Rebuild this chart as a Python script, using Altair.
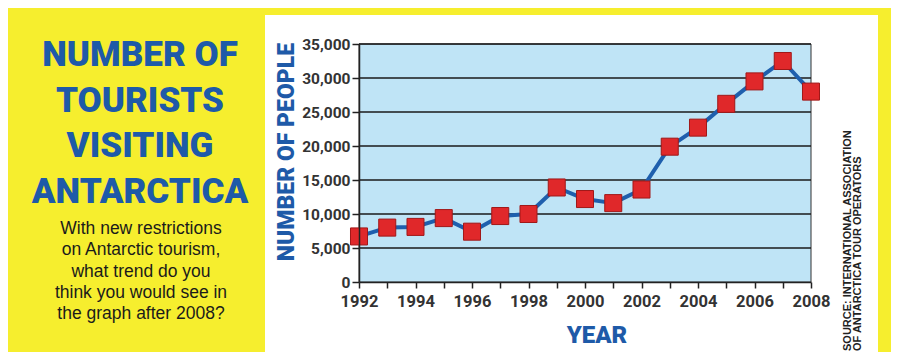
import altair as alt
import pandas as pd

years = list(range(1992, 2009))
tourists = [6700, 8000, 8100, 9400, 7400, 9700, 10000, 13900, 12200, 11600,
            13600, 19900, 22700, 26200, 29500, 32500, 28000]
grid_values = [5000, 10000, 15000, 20000, 25000, 30000, 35000]
y_ticks = [0, 5000, 10000, 15000, 20000, 25000, 30000, 35000]
title_lines = ["NUMBER OF", "TOURISTS", "VISITING", "ANTARCTICA"]
question_lines = ["With new restrictions", "on Antarctic tourism,", "what trend do you",
                  "think you would see in", "the graph after 2008?"]
y_title = "NUMBER OF PEOPLE"
x_title = "YEAR"
source_1 = "SOURCE: INTERNATIONAL ASSOCIATION"
source_2 = "OF ANTARCTICA TOUR OPERATORS"

W, H = 452, 238
NARROW = "Roboto, Liberation Sans, sans-serif"
BLUE = "#1e5aa8"
YELLOW = "#f6ee2e"

df = pd.DataFrame({"year": years, "tourists": tourists})
gdf = pd.DataFrame({"tourists": grid_values})
one = pd.DataFrame({"a": [0]})

xs = alt.Scale(domain=[1992, 2008], nice=False, zero=False)
ys = alt.Scale(domain=[0, 35000], nice=False)

yaxis = alt.Axis(values=y_ticks, title=None, grid=False,
                 labelExpr="format(datum.value, ',')",
                 labelFont=NARROW, labelFontWeight="bold", labelFontSize=15.5,
                 labelColor="#333", tickColor="#222", domainColor="#222",
                 tickSize=7, labelPadding=2, zindex=1, domainWidth=1.5,
                 tickWidth=1.5, labelFlush=False, labelOverlap=False)
xaxis = alt.Axis(values=years, title=None, grid=False,
                 labelExpr="datum.value % 2 == 0 ? format(datum.value, 'd') : ''",
                 labelFont=NARROW, labelFontWeight="bold", labelFontSize=16.5,
                 labelColor="#333", tickColor="#222", domainColor="#222",
                 tickSize=6, labelPadding=5, zindex=1, labelFlush=False,
                 labelOverlap=False, domainWidth=1.5, tickWidth=1.5)

panel = alt.Chart(one).mark_rect(color="white").encode(
    x=alt.value(-94), x2=alt.value(519), y=alt.value(-29), y2=alt.value(330))
plotbg = alt.Chart(one).mark_rect(color="#bfe4f6", stroke="#333", strokeWidth=1).encode(
    x=alt.value(0), x2=alt.value(W), y=alt.value(0), y2=alt.value(H))
grid = alt.Chart(gdf).mark_rule(color="#1a1a1a", strokeWidth=1.5).encode(
    y=alt.Y("tourists:Q", scale=ys, axis=yaxis))

line = alt.Chart(df).mark_line(color="#1f5fad", strokeWidth=4, strokeJoin="round").encode(
    x=alt.X("year:Q", scale=xs, axis=xaxis),
    y=alt.Y("tourists:Q", scale=ys, axis=yaxis))
points = alt.Chart(df).mark_point(shape="square", filled=True, size=290, color="#e0282a",
                                  stroke="#a01818", strokeWidth=1, opacity=1).encode(
    x=alt.X("year:Q", scale=xs, axis=xaxis), y=alt.Y("tourists:Q", scale=ys, axis=yaxis))

title_txt = alt.Chart(one).mark_text(
    text=title_lines, font=NARROW, fontWeight=900, fontSize=35, color=BLUE,
    align="center", baseline="alphabetic", lineHeight=45.5).encode(
    x=alt.value(-219), y=alt.value(22))
question_txt = alt.Chart(one).mark_text(
    text=question_lines, font="Liberation Sans, Arial, sans-serif", fontSize=17.5,
    color="#1b1b1b", align="center", baseline="alphabetic", lineHeight=21.3).encode(
    x=alt.value(-218), y=alt.value(190))
ytitle_txt = alt.Chart(one).mark_text(
    text=y_title, font=NARROW, fontWeight=900, fontSize=23, color=BLUE,
    align="center", baseline="middle", angle=270).encode(
    x=alt.value(-72), y=alt.value(108))
xtitle_txt = alt.Chart(one).mark_text(
    text=x_title, font=NARROW, fontWeight=900, fontSize=24, color=BLUE,
    align="center", baseline="middle").encode(
    x=alt.value(238), y=alt.value(292))
src1 = alt.Chart(one).mark_text(
    text=source_1, font="Liberation Sans, Arial, sans-serif", fontWeight="bold",
    fontSize=11, color="#222", align="left", baseline="middle", angle=270).encode(
    x=alt.value(489), y=alt.value(307))
src2 = alt.Chart(one).mark_text(
    text=source_2, font="Liberation Sans, Arial, sans-serif", fontWeight="bold",
    fontSize=11, color="#222", align="left", baseline="middle", angle=270).encode(
    x=alt.value(499), y=alt.value(307))

chart = alt.layer(panel, plotbg, grid, line, points, title_txt, question_txt,
                  ytitle_txt, xtitle_txt, src1, src2).properties(
    width=W, height=H,
    padding={"left": 351, "top": 36, "right": 80, "bottom": 70},
    autosize=alt.AutoSizeParams(type="none"),
    background=YELLOW,
).configure_view(stroke=None)

chart.save("out.html", embed_options={"renderer": "svg", "actions": False})
